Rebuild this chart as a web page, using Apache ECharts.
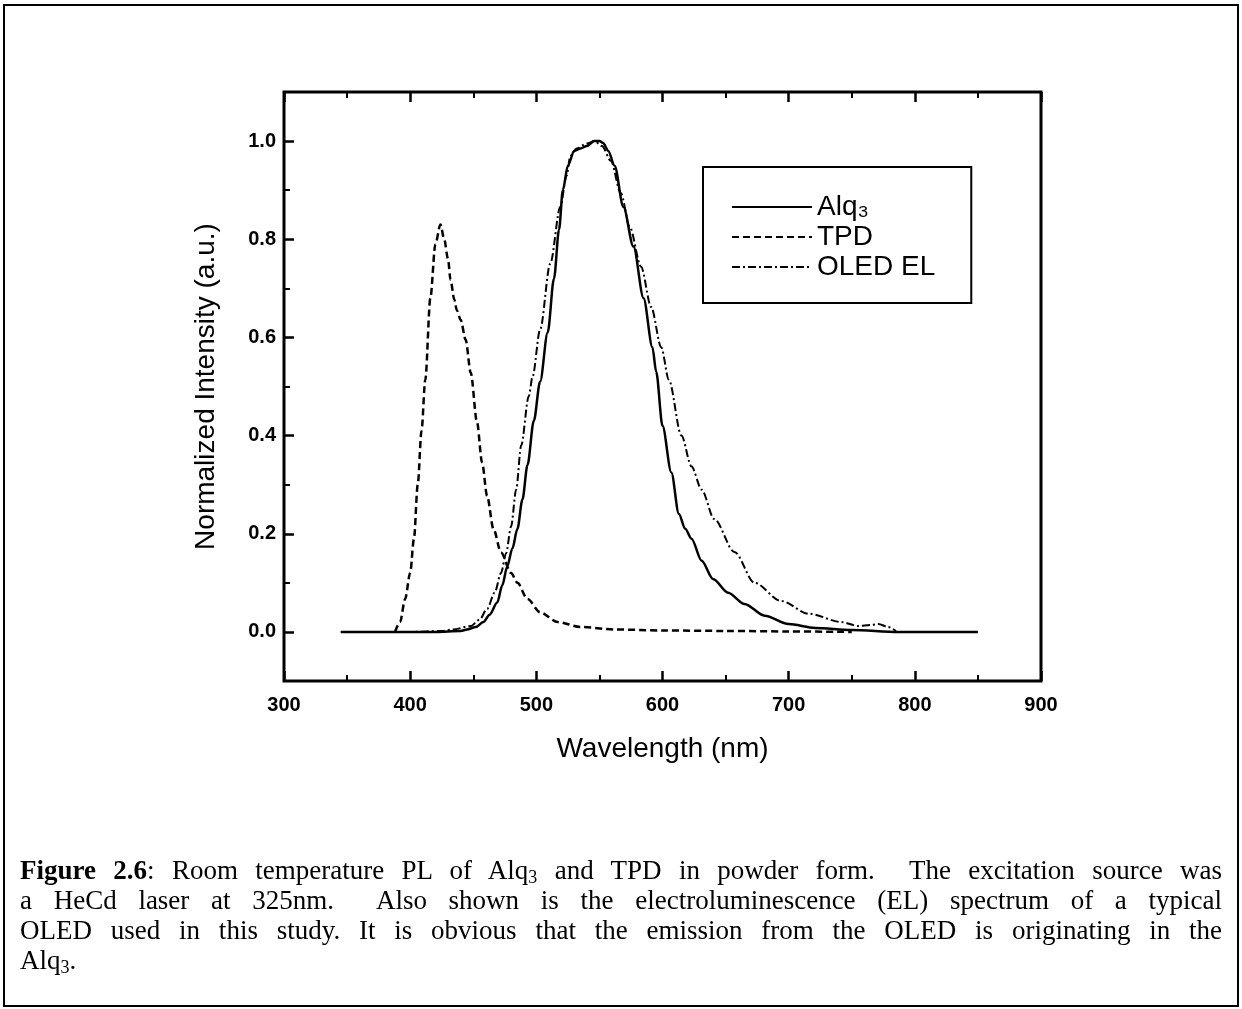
<!DOCTYPE html>
<html>
<head>
<meta charset="utf-8">
<script src="https://cdn.jsdelivr.net/npm/echarts@6/dist/echarts.min.js"></script>
<style>
    html, body { margin: 0; padding: 0; background: #fff; }
    #wrap { position: relative; width: 1242px; height: 1009px; }
    #main { position: absolute; left: 0; top: 0; width: 1242px; height: 1009px; }
    #caption {
        position: absolute; left: 20px; top: 855px; width: 1202px;
        font-family: "Liberation Serif", "DejaVu Serif", serif;
        font-size: 27px; line-height: 30px; color: #000;
    }
    #caption div { text-align: justify; text-align-last: justify; white-space: nowrap; }
    #caption div.last { text-align-last: left; }
    #caption sub { font-size: 18px; vertical-align: -4px; line-height: 0; }
</style>
</head>
<body>
<div id="wrap">
    <div id="main"></div>
    <div id="caption">
        <div><b>Figure 2.6</b>: Room temperature PL of Alq<sub>3</sub> and TPD in powder form.&nbsp; The excitation source was</div>
        <div>a HeCd laser at 325nm.&nbsp; Also shown is the electroluminescence (EL) spectrum of a typical</div>
        <div>OLED used in this study. It is obvious that the emission from the OLED is originating in the</div>
        <div class="last">Alq<sub>3</sub>.</div>
    </div>
</div>
<script>
    // wavelength (nm) and normalized intensity
    var alqNm  = [345, 380, 420, 440, 445, 452, 458, 463, 469, 473, 477, 481, 485, 489, 493, 498, 503, 509, 514, 518, 521, 525, 530, 535, 540, 546, 550, 553, 557, 562, 569, 577, 585, 592, 595, 600, 607, 613, 618, 623, 631, 640, 652, 665, 681, 700, 721, 750, 787, 820, 850];
    var alqVal = [0, 0, 0, 0.002, 0.005, 0.01, 0.02, 0.035, 0.06, 0.095, 0.134, 0.17, 0.21, 0.27, 0.34, 0.43, 0.51, 0.61, 0.72, 0.82, 0.90, 0.95, 0.98, 0.985, 0.99, 1.0, 1.0, 0.996, 0.98, 0.95, 0.866, 0.785, 0.68, 0.58, 0.53, 0.42, 0.325, 0.24, 0.21, 0.19, 0.145, 0.108, 0.08, 0.057, 0.033, 0.016, 0.008, 0.004, 0, 0, 0];

    var tpdNm  = [388, 392, 396, 400, 403, 406, 409, 412, 416, 420, 424, 427, 430, 432, 435, 437, 440, 444, 448, 453, 457, 461, 466, 472, 480, 485, 493, 503, 517, 535, 562, 600, 650, 700, 750];
    var tpdVal = [0, 0.02, 0.067, 0.12, 0.19, 0.3, 0.41, 0.514, 0.68, 0.79, 0.83, 0.8, 0.76, 0.717, 0.677, 0.655, 0.636, 0.595, 0.528, 0.427, 0.345, 0.277, 0.21, 0.162, 0.12, 0.1, 0.067, 0.04, 0.02, 0.01, 0.005, 0.003, 0.002, 0.001, 0];

    var oledNm  = [345, 400, 425, 434, 448, 455, 461, 467, 472, 476, 480, 484, 488, 494, 497, 503, 511, 519, 524, 527, 532, 540, 546, 552, 559, 567, 574, 583, 591, 599, 605, 615, 623, 631, 641, 657, 673, 694, 716, 742, 755, 765, 771, 779, 785];
    var oledVal = [0, 0, 0.002, 0.005, 0.012, 0.025, 0.047, 0.08, 0.12, 0.16, 0.215, 0.29, 0.38, 0.48, 0.52, 0.616, 0.75, 0.866, 0.93, 0.97, 0.985, 0.995, 1.0, 0.99, 0.96, 0.894, 0.825, 0.744, 0.662, 0.58, 0.514, 0.40, 0.337, 0.29, 0.23, 0.163, 0.10, 0.063, 0.037, 0.02, 0.012, 0.014, 0.016, 0.01, 0.002];

    var yMajor = [0, 0.2, 0.4, 0.6, 0.8, 1.0];
    var yMinor = [0.1, 0.3, 0.5, 0.7, 0.9];

    function pairs(xs, ys) {
        return xs.map(function (x, i) { return [x, ys[i]]; });
    }

    var font = '"Liberation Sans", Arial, sans-serif';

    var chart = echarts.init(document.getElementById('main'));
    chart.setOption({
        backgroundColor: '#fff',
        animation: false,
        graphic: [{
            type: 'rect',
            shape: { x: 4, y: 5, width: 1234, height: 1001 },
            style: { fill: null, stroke: '#000', lineWidth: 2 }
        }],
        grid: {
            left: 284, top: 92, right: 201, bottom: 328,
            show: true, borderColor: '#000', borderWidth: 3
        },
        legend: {
            orient: 'vertical',
            left: 703, top: 167,
            padding: [26, 36, 22, 28],
            borderColor: '#000', borderWidth: 2,
            itemWidth: 80, itemHeight: 14, itemGap: 2,
            itemStyle: { opacity: 0 },
            textStyle: { fontFamily: font, fontSize: 28, color: '#000', lineHeight: 28 },
            data: ['Alq₃', 'TPD', 'OLED EL']
        },
        xAxis: [
            {
                type: 'value', min: 300, max: 900, interval: 100, position: 'bottom',
                axisLine: { show: false, onZero: false },
                axisTick: { inside: true, length: 10, lineStyle: { color: '#000', width: 2.5 } },
                minorTick: { show: true, splitNumber: 2, length: 6, lineStyle: { color: '#000', width: 2 } },
                splitLine: { show: false },
                axisLabel: { fontFamily: font, fontSize: 20, fontWeight: 'bold', color: '#000', margin: 14 },
                name: 'Wavelength (nm)', nameLocation: 'middle', nameGap: 54,
                nameTextStyle: { fontFamily: font, fontSize: 28, color: '#000' }
            },
            {
                type: 'value', min: 300, max: 900, interval: 100, position: 'top',
                axisLine: { show: false, onZero: false },
                axisTick: { inside: true, length: 10, lineStyle: { color: '#000', width: 2.5 } },
                minorTick: { show: true, splitNumber: 2, length: 6, lineStyle: { color: '#000', width: 2 } },
                splitLine: { show: false },
                axisLabel: { show: false }
            }
        ],
        yAxis: [
            {
                type: 'value', min: -0.1, max: 1.1, position: 'left',
                axisLine: { show: false, onZero: false },
                axisTick: { inside: true, length: 10, customValues: yMajor, lineStyle: { color: '#000', width: 2.5 } },
                splitLine: { show: false },
                axisLabel: {
                    customValues: yMajor, fontFamily: font, fontSize: 20, fontWeight: 'bold', color: '#000', margin: 8,
                    formatter: function (v) { return v.toFixed(1); }
                },
                name: 'Normalized Intensity (a.u.)', nameLocation: 'middle', nameGap: 64,
                nameTextStyle: { fontFamily: font, fontSize: 28, color: '#000' }
            },
            {
                type: 'value', min: -0.1, max: 1.1, position: 'left', offset: 0,
                axisLine: { show: false, onZero: false },
                axisTick: { inside: true, length: 6, customValues: yMinor, lineStyle: { color: '#000', width: 2 } },
                splitLine: { show: false },
                axisLabel: { show: false }
            }
        ],
        series: [
            {
                name: 'Alq₃', type: 'line', symbol: 'none', smooth: 0.3, smoothMonotone: 'x',
                lineStyle: { color: '#000', width: 2.5, type: 'solid' },
                itemStyle: { color: '#000' },
                data: pairs(alqNm, alqVal)
            },
            {
                name: 'TPD', type: 'line', symbol: 'none', smooth: 0.3, smoothMonotone: 'x',
                lineStyle: { color: '#000', width: 2.5, type: [7, 4] },
                itemStyle: { color: '#000' },
                data: pairs(tpdNm, tpdVal)
            },
            {
                name: 'OLED EL', type: 'line', symbol: 'none', smooth: 0.3, smoothMonotone: 'x',
                lineStyle: { color: '#000', width: 2, type: [8, 3, 2, 3] },
                itemStyle: { color: '#000' },
                data: pairs(oledNm, oledVal)
            }
        ]
    });
</script>
</body>
</html>
